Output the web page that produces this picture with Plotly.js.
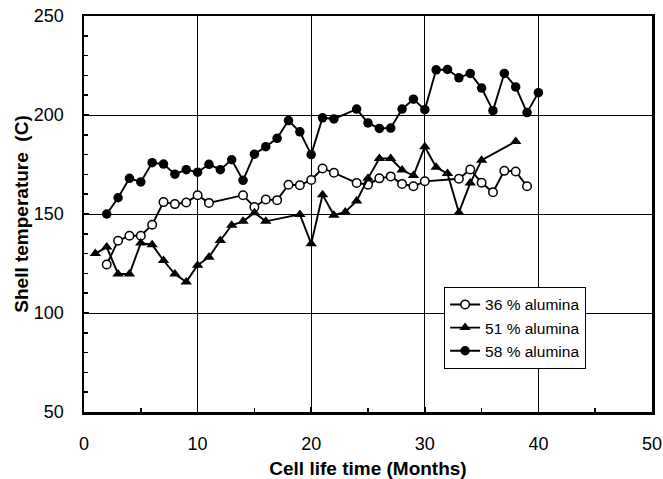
<!DOCTYPE html>
<html>
<head>
<meta charset="utf-8">
<script src="https://cdn.plot.ly/plotly-3.0.1.min.js"></script>
<style>
html,body{margin:0;padding:0;background:#fff;}
#chart{width:663px;height:479px;}
</style>
</head>
<body>
<div id="chart"></div>
<script>
// Cell life time (months)
const months36 = [2,3,4,5,6,7,8,9,10,11,14,15,16,17,18,19,20,21,22,24,25,26,27,28,29,30,33,34,35,36,37,38,39];
const temp36 = [124.5,136.5,139,139,144.6,156,155,155.8,159.5,155.6,159.5,153.5,157.3,157,164.8,164.5,167.2,173,170.8,165.7,164.8,168,169,165.2,164,166.5,167.8,172.5,165.8,161,171.8,171.5,164];

const months51 = [1,2,3,4,5,6,7,8,9,10,11,12,13,14,15,16,19,20,21,22,23,24,25,26,27,28,29,30,31,32,33,34,35,38];
const temp51 = [130,133.3,119.7,119.7,135.3,134.5,126.5,119.7,115.7,124.1,128.2,136.6,144.3,146.3,150.6,146.3,149.8,135,159.7,149.4,151,156.6,168,178,178,172.2,169.4,184,173.6,170.4,150.8,165.6,177.2,186.6];

const months58 = [2,3,4,5,6,7,8,9,10,11,12,13,14,15,16,17,18,19,20,21,22,24,25,26,27,28,29,30,31,32,33,34,35,36,37,38,39,40];
const temp58 = [150,158.2,168,166.2,175.9,175.2,170.1,172.4,171.1,175.1,172.4,177.4,167,180.2,184,188.2,197.2,191.5,180,198.6,198,203,196,193.2,193.4,203,208,202.7,222.8,223,218.8,221,213.6,202.2,221,214.2,201.2,211.3];

const seriesNames = ['36 % alumina','51 % alumina','58 % alumina'];
const xTickVals = [0,10,20,30,40,50];
const yTickVals = [50,100,150,200,250];

const FONT = '"Liberation Sans", Arial, sans-serif';

const traces = [
  {x: months36, y: temp36, name: seriesNames[0], mode: 'lines+markers',
   line: {color: '#000', width: 1.9},
   marker: {symbol: 'circle', size: 8.5, color: '#fff', line: {color: '#000', width: 1.5}}},
  {x: months51, y: temp51, name: seriesNames[1], mode: 'lines+markers',
   line: {color: '#000', width: 1.9},
   marker: {symbol: 'triangle-up', size: 10, color: '#000'}},
  {x: months58, y: temp58, name: seriesNames[2], mode: 'lines+markers',
   line: {color: '#000', width: 1.9},
   marker: {symbol: 'circle', size: 9.5, color: '#000'}}
];

const layout = {
  width: 663, height: 479,
  margin: {l: 84, r: 11, t: 16, b: 67},
  paper_bgcolor: '#fff', plot_bgcolor: '#fff',
  font: {family: FONT, color: '#000', size: 18},
  showlegend: true,
  legend: {
    x: 0.634, y: 0.316, xanchor: 'left', yanchor: 'top',
    bgcolor: '#fff', bordercolor: '#000', borderwidth: 1,
    font: {family: FONT, size: 15.5, color: '#000'},
    tracegroupgap: 0, itemwidth: 30
  },
  xaxis: {
    range: [0, 50], tickvals: xTickVals, ticktext: xTickVals.map(String),
    showgrid: true, gridcolor: '#000', gridwidth: 1,
    showline: true, linecolor: '#000', linewidth: 2.5, mirror: true,
    ticks: 'inside', ticklen: 5, tickcolor: '#000', tickwidth: 1.5,
    minor: {dtick: 5, ticks: 'inside', ticklen: 4, tickcolor: '#000', tickwidth: 1.5, showgrid: false},
    zeroline: false, ticklabelstandoff: 14,
    tickfont: {family: FONT, size: 18, color: '#000'},
    title: {text: '<b>Cell life time (Months)</b>', font: {family: FONT, size: 19, color: '#000'}, standoff: 14}
  },
  yaxis: {
    range: [50, 250], tickvals: yTickVals, ticktext: yTickVals.map(String),
    showgrid: true, gridcolor: '#000', gridwidth: 1,
    showline: true, linecolor: '#000', linewidth: 2.5, mirror: true,
    ticks: 'inside', ticklen: 5, tickcolor: '#000', tickwidth: 1.5,
    minor: {dtick: 10, ticks: 'inside', ticklen: 4, tickcolor: '#000', tickwidth: 1.5, showgrid: false},
    zeroline: false, ticklabelstandoff: 14,
    tickfont: {family: FONT, size: 18, color: '#000'},
    title: {text: '<b>Shell temperature&nbsp;&nbsp;(C)</b>', font: {family: FONT, size: 19, color: '#000'}, standoff: 0}
  }
};

Plotly.newPlot('chart', traces, layout, {displayModeBar: false, staticPlot: true});
</script>
</body>
</html>
